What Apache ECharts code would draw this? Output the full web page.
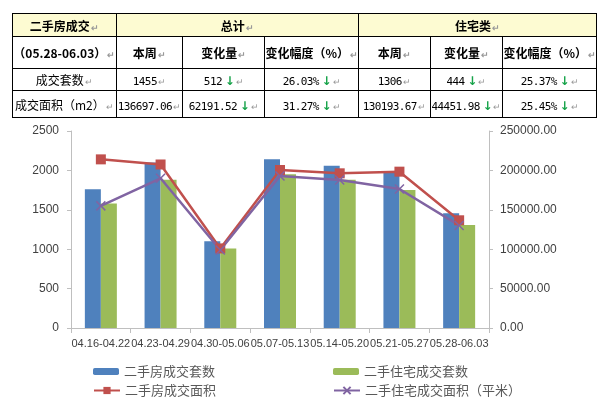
<!DOCTYPE html>
<html>
<head>
<meta charset="utf-8">
<script src="https://cdn.jsdelivr.net/npm/echarts@6/dist/echarts.min.js"></script>
<style>
html, body { margin: 0; padding: 0; background: #fff; }
#chart { position: absolute; left: 0; top: 0; width: 597px; height: 398px; }
#tbl { position: absolute; left: 12px; top: 13px; border-collapse: collapse; table-layout: fixed;
  font-family: "Noto Sans CJK SC", sans-serif; font-size: 12px; color: #000; }
#tbl td { border: 1px solid #000; text-align: center; padding: 0; white-space: nowrap; overflow: hidden; }
#tbl .hd { background: #fdfbd2; font-weight: bold; }
#tbl .b { font-weight: bold; }
#tbl .n { font-family: "DejaVu Sans Mono", monospace; font-size: 11px; letter-spacing: -0.6px; }
#tbl .dn { color: #17a34a; font-weight: bold; font-family: "DejaVu Sans", sans-serif; font-size: 12px; }
#tbl .pm { color: #999; font-size: 9px; margin-left: 1px; }
</style>
</head>
<body>
<div id="chart"></div>
<table id="tbl"></table>
<script>
// 表格数据
const tableHead = ['二手房成交', '总计', '住宅类']
const tableSub = ['（05.28-06.03）', '本周', '变化量', '变化幅度（%）', '本周', '变化量', '变化幅度（%）']
const rowNames = ['成交套数', '成交面积（m2）']
const rowCount = ['1455', '512', '26.03%', '1306', '444', '25.37%']
const rowArea = ['136697.06', '62191.52', '31.27%', '130193.67', '44451.98', '25.45%']

// 图表数据
const categories = ['04.16-04.22', '04.23-04.29', '04.30-05.06', '05.07-05.13', '05.14-05.20', '05.21-05.27', '05.28-06.03']
const setsAll = [1760, 2100, 1100, 2140, 2060, 1980, 1455]
const setsHome = [1580, 1880, 1010, 1950, 1880, 1750, 1306]
const areaAll = [214000, 207500, 101000, 200500, 196300, 198400, 136697.06]
const areaHome = [155000, 190000, 99000, 192900, 187800, 176400, 130193.67]

const colW = [104, 68, 89, 86, 76, 74, 86]
const rowH = [23, 32, 22, 27]
const pm = '<span class="pm">↵</span>'

function buildTable(){
    let t = document.getElementById('tbl')
    let html = '<colgroup>' + colW.map(w => '<col style="width:' + w + 'px">').join('') + '</colgroup>'
    html += '<tr style="height:' + rowH[0] + 'px"><td class="hd">' + tableHead[0] + pm + '</td>'
        + '<td class="hd" colspan="3">' + tableHead[1] + pm + '</td>'
        + '<td class="hd" colspan="3">' + tableHead[2] + pm + '</td></tr>'
    html += '<tr style="height:' + rowH[1] + 'px">' + tableSub.map(s => '<td class="b">' + s + pm + '</td>').join('') + '</tr>'
    let row = function (name, vals, h) {
        let r = '<tr style="height:' + h + 'px"><td>' + name + pm + '</td>'
        vals.forEach(function (v, i) {
            let arrow = (i % 3 !== 0) ? ' <span class="dn">↓</span>' : ''
            r += '<td><span class="n">' + v + '</span>' + arrow + pm + '</td>'
        })
        return r + '</tr>'
    }
    html += row(rowNames[0], rowCount, rowH[2])
    html += row(rowNames[1], rowArea, rowH[3])
    t.innerHTML = html
}
buildTable()

let myChart = echarts.init(document.getElementById('chart'))
const axisColor = '#bfbfbf'
const textColor = '#404040'
const legendText = { color: '#595959', fontSize: 13, fontFamily: 'Noto Sans CJK SC' }
const xMarker = 'path://M0,0 L10,10 M10,0 L0,10'

const option = {
    backgroundColor: '#fff',
    animation: false,
    grid: { left: 71, right: 108, top: 131, bottom: 70 },
    textStyle: { fontFamily: 'Liberation Sans' },
    legend: [
        { left: 88, top: 360, itemWidth: 26, itemHeight: 7, data: ['二手房成交套数'], textStyle: legendText },
        { left: 328, top: 360, itemWidth: 26, itemHeight: 7, data: ['二手住宅成交套数'], textStyle: legendText },
        { left: 88, top: 379, itemWidth: 26, itemHeight: 9, data: ['二手房成交面积'], textStyle: legendText },
        { left: 328, top: 379, itemWidth: 26, itemHeight: 9, data: ['二手住宅成交面积（平米）'], textStyle: legendText }
    ],
    xAxis: {
        type: 'category',
        data: categories,
        axisLine: { lineStyle: { color: axisColor } },
        axisTick: { show: true, length: 5, lineStyle: { color: axisColor } },
        axisLabel: { color: textColor, fontSize: 11, interval: 0, margin: 10 }
    },
    yAxis: [
        {
            type: 'value', min: 0, max: 2500, interval: 500,
            axisLine: { show: true, lineStyle: { color: axisColor } },
            axisTick: { show: true, length: 4, lineStyle: { color: axisColor } },
            splitLine: { show: false },
            axisLabel: { color: textColor, fontSize: 12, margin: 12,
                formatter: function (v) { return String(v) } }
        },
        {
            type: 'value', min: 0, max: 250000, interval: 50000, position: 'right',
            axisLine: { show: true, lineStyle: { color: axisColor } },
            axisTick: { show: true, length: 4, lineStyle: { color: axisColor } },
            splitLine: { show: false },
            axisLabel: { color: textColor, fontSize: 12, margin: 11,
                formatter: function (v) { return v.toFixed(2) } }
        }
    ],
    series: [
        { name: '二手房成交套数', type: 'bar', barWidth: 16, barGap: '0%',
          itemStyle: { color: '#4f81bd' }, data: setsAll },
        { name: '二手住宅成交套数', type: 'bar', barWidth: 16,
          itemStyle: { color: '#9bbb59' }, data: setsHome },
        { name: '二手房成交面积', type: 'line', yAxisIndex: 1, symbol: 'rect', symbolSize: 10,
          lineStyle: { color: '#c0504d', width: 2.5 }, itemStyle: { color: '#c0504d' }, data: areaAll },
        { name: '二手住宅成交面积（平米）', type: 'line', yAxisIndex: 1, symbol: xMarker, symbolSize: 9,
          lineStyle: { color: '#8064a2', width: 2.5 },
          itemStyle: { color: 'none', borderColor: '#8064a2', borderWidth: 1.5 }, data: areaHome }
    ]
}
myChart.setOption(option)
</script>
</body>
</html>
